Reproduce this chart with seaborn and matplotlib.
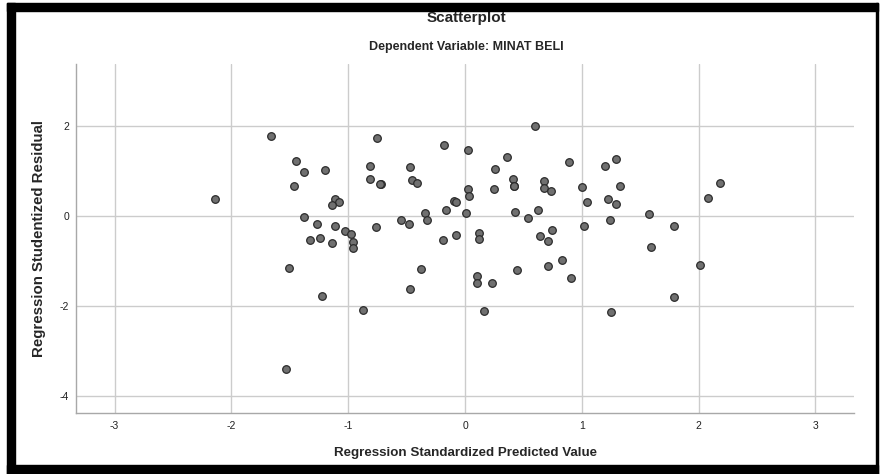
import numpy as np
import pandas as pd
import seaborn as sns
import matplotlib.pyplot as plt
from matplotlib.patches import Rectangle

# Regression residual scatterplot (SPSS style)
predicted = [
    -1.658, -1.449, -1.378, -1.199, -1.461, -2.137, -1.116, -1.081, -1.141, -1.378,
    -1.267, -1.113, -1.030, -0.976, -0.959, -0.961, -1.327, -1.241, -1.141, -1.509,
    -1.224, -0.876, -1.532, 0.597, -0.750, -0.176, 0.023, 0.360, 0.891, -0.816,
    -0.467, 0.257, 1.202, 1.296, -0.816, -0.722, -0.730, -0.456, -0.414, 0.414,
    0.423, 0.418, 0.680, 0.680, 0.736, 0.023, 0.034, 0.246, 1.005, 1.324,
    1.045, 1.228, 1.296, -0.091, -0.077, -0.342, -0.163, 0.009, 0.426, 0.622,
    -0.328, -0.545, -0.482, 0.543, 1.016, 1.241, -0.759, -0.188, -0.074, 0.123,
    0.123, 0.640, 0.711, 0.748, 0.832, -0.373, -0.467, 0.106, 0.106, 0.231,
    0.443, 0.711, 0.905, 0.163, 1.253, 2.181, 2.081, 1.579, 1.789, 1.593,
    2.010, 1.789,
]
residual = [
    1.78, 1.22, 0.98, 1.03, 0.66, 0.39, 0.37, 0.31, 0.24, -0.02,
    -0.17, -0.22, -0.33, -0.40, -0.57, -0.70, -0.53, -0.48, -0.61, -1.16,
    -1.79, -2.09, -3.41, 2.01, 1.73, 1.58, 1.47, 1.32, 1.21, 1.12,
    1.10, 1.04, 1.12, 1.27, 0.83, 0.71, 0.72, 0.80, 0.74, 0.83,
    0.67, 0.68, 0.78, 0.63, 0.56, 0.61, 0.45, 0.61, 0.65, 0.67,
    0.31, 0.37, 0.28, 0.33, 0.31, 0.08, 0.14, 0.06, 0.10, 0.14,
    -0.08, -0.09, -0.17, -0.04, -0.22, -0.09, -0.24, -0.54, -0.41, -0.37,
    -0.51, -0.45, -0.55, -0.32, -0.98, -1.17, -1.62, -1.33, -1.48, -1.50,
    -1.20, -1.12, -1.37, -2.12, -2.13, 0.73, 0.41, 0.05, -0.22, -0.68,
    -1.09, -1.80,
]
x_ticks = [-3, -2, -1, 0, 1, 2, 3]
y_ticks = [-4, -2, 0, 2]

df = pd.DataFrame({"pred": predicted, "resid": residual})

sns.set_style("white")
plt.rcParams["font.family"] = ["Liberation Sans", "DejaVu Sans"]
plt.rcParams["axes.unicode_minus"] = False

fig = plt.figure(figsize=(8.81, 4.74), dpi=100)
ax = fig.add_axes([0.0863, 0.1287, 0.8831, 0.7356])

sns.scatterplot(data=df, x="pred", y="resid", ax=ax, s=30,
                color="#707070", edgecolor="#2b2b2b", linewidth=0.9, zorder=3)

ax.set_xlim(-3.33, 3.33)
ax.set_ylim(-4.385, 3.38)
ax.set_xticks(x_ticks)
ax.set_yticks(y_ticks)
ax.grid(True, color="#cccccc", linewidth=1.0)
ax.set_axisbelow(True)

for side in ["top", "right"]:
    ax.spines[side].set_visible(False)
for side in ["left", "bottom"]:
    ax.spines[side].set_color("#a8a8a8")
    ax.spines[side].set_linewidth(1.0)

ax.tick_params(axis="x", length=0, pad=6, labelsize=7.5, colors="#222222")
ax.tick_params(axis="y", length=4, width=1, color="#cccccc", pad=1,
               labelsize=7.5, labelcolor="#222222")

ax.set_xlabel("Regression Standardized Predicted Value", fontsize=9.6,
              fontweight="bold", labelpad=11.5)
ax.set_ylabel("Regression Studentized Residual", fontsize=10.8,
              fontweight="bold", labelpad=10)

fig.text(0.529, 1 - 18 / 474, "Scatterplot", ha="center", va="center",
         fontsize=11, fontweight="bold")
fig.text(0.529, 1 - 47 / 474, "Dependent Variable: MINAT BELI", ha="center",
         va="center", fontsize=9, fontweight="bold")

# black frame round the chart
W, H = 881, 474
frame = [
    (7, 3, 8, 471),     # left bar
    (7, 3, 871, 8),     # top bar
    (876, 3, 2, 471),   # right line
    (7, 465, 871, 9),   # bottom bar
]
for x0, y0, w, h in frame:
    fig.add_artist(Rectangle((x0 / W, 1 - (y0 + h) / H), w / W, h / H,
                             transform=fig.transFigure, color="black", zorder=10))

plt.savefig("out.png", dpi=100)
